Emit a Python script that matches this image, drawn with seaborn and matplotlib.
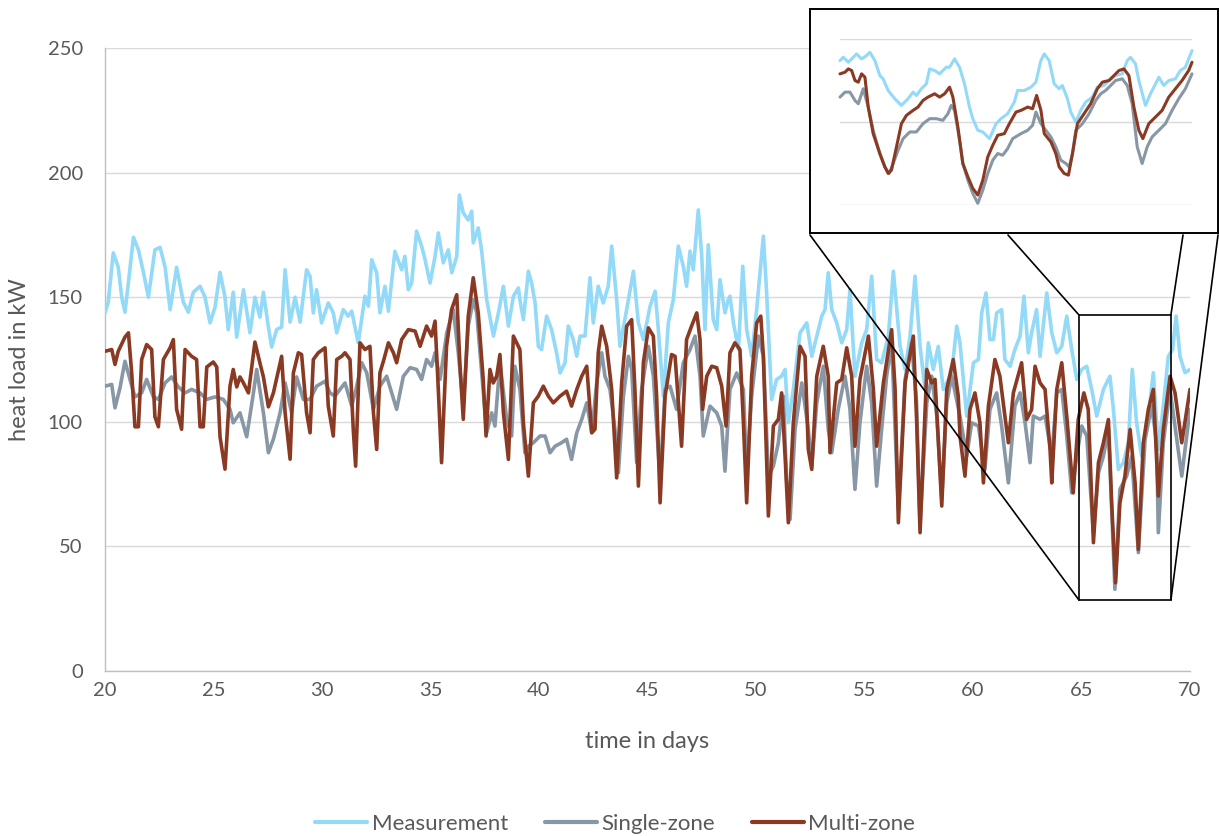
import numpy as np
import matplotlib
matplotlib.use("Agg")
import matplotlib.pyplot as plt
from matplotlib.lines import Line2D
from matplotlib.patches import Rectangle, ConnectionPatch
import seaborn as sns

# ---------------------------------------------------------------- data
meas_days = [20.00, 20.15, 20.38, 20.61, 20.77, 20.92, 21.08, 21.31, 21.54, 21.77, 22.00, 22.30, 22.54, 22.77,
             23.00, 23.30, 23.61, 23.84, 24.07, 24.38, 24.61, 24.84, 25.07, 25.30, 25.53, 25.68, 25.91, 26.07,
             26.38, 26.68, 26.91, 27.14, 27.30, 27.53, 27.68, 27.91, 28.14, 28.30, 28.53, 28.76, 28.99, 29.29,
             29.45, 29.60, 29.75, 29.98, 30.29, 30.52, 30.68, 30.98, 31.21, 31.37, 31.67, 31.98, 32.14, 32.29,
             32.52, 32.67, 32.90, 33.06, 33.36, 33.67, 33.82, 33.98, 34.13, 34.36, 34.59, 34.75, 34.98, 35.21,
             35.36, 35.59, 35.82, 35.98, 36.21, 36.33, 36.51, 36.74, 36.90, 36.97, 37.20, 37.36, 37.59, 37.90,
             38.13, 38.36, 38.59, 38.82, 39.05,
             39.12, 39.28, 39.51, 39.66, 39.82, 39.97, 40.12, 40.35, 40.58, 40.81, 40.97, 41.20, 41.35, 41.58,
             41.74, 41.89, 42.12, 42.35, 42.50, 42.73, 42.96, 43.19, 43.35, 43.58, 43.73, 44.04, 44.35, 44.58,
             44.81, 45.12, 45.35, 45.50, 45.73, 45.96, 46.19, 46.42, 46.65, 46.80, 46.96, 47.11, 47.34, 47.50,
             47.65, 47.80, 48.03, 48.19, 48.34, 48.57, 48.72,
             48.80, 48.96, 49.19, 49.39, 49.57, 49.80, 50.03, 50.34, 50.49, 50.72, 50.95, 51.18, 51.34, 51.49,
             51.72, 52.03, 52.34, 52.57, 52.80, 53.03, 53.18, 53.33, 53.49, 53.72, 53.95, 54.18, 54.33, 54.56,
             54.87, 55.10, 55.33, 55.56, 55.79, 56.10, 56.33, 56.64, 56.87, 57.10, 57.33, 57.56, 57.79, 57.94,
             58.17, 58.40, 58.63, 59.02, 59.25,
             59.40, 59.71, 60.02, 60.25, 60.40, 60.60, 60.78, 60.94, 61.09, 61.32, 61.47, 61.71, 61.93, 62.17,
             62.35, 62.55, 62.70, 62.93, 63.09, 63.40, 63.63, 63.86, 64.09, 64.32, 64.55, 64.78, 65.01, 65.24,
             65.47, 65.70, 66.01, 66.31, 66.47, 66.70, 66.93, 67.16, 67.34, 67.54, 67.77, 68.08, 68.31, 68.54,
             68.77, 69.00, 69.20, 69.36, 69.54, 69.77, 70.00]
meas_load = [143.7, 148.0, 167.8, 162.0, 150.0, 144.0, 156.0, 174.0, 169.0, 160.0, 150.0, 169.0, 170.0, 162.0,
             145.0, 162.0, 148.0, 144.0, 152.0, 154.4, 150.0, 139.7, 146.0, 160.0, 150.0, 137.0, 152.0, 134.0,
             153.0, 135.7, 150.0, 142.0, 152.0, 138.0, 130.0, 137.0, 138.0, 161.0, 140.0, 150.0, 140.0, 161.0,
             158.4, 143.7, 153.0, 139.7, 147.7, 143.7, 135.7, 145.0, 142.4, 144.4, 131.7, 150.4, 146.4, 165.0,
             159.8, 143.7, 154.4, 144.4, 168.4, 161.0, 166.4, 153.0, 155.7, 176.5, 170.5, 165.0, 155.7, 166.4,
             175.8, 163.8, 169.0, 159.8, 166.4, 191.0, 183.8, 181.0, 184.5, 171.8, 177.8, 168.4, 149.0, 134.4,
             143.7, 154.4, 138.4, 150.4, 153.7,
             149.0, 141.0, 160.4, 155.7, 147.7, 130.3, 129.0, 142.4, 137.0, 127.7, 119.6, 123.7, 138.4, 133.0,
             126.3, 134.4, 134.4, 157.8, 139.7, 154.4, 147.7, 154.4, 170.5, 149.0, 130.3, 145.0, 160.4, 139.7,
             133.0, 146.4, 152.4, 137.0, 110.3, 139.7, 149.0, 170.5, 162.4, 154.4, 168.5, 161.0, 185.0, 166.4,
             137.0, 171.0, 141.0, 137.0, 157.0, 143.7, 149.0,
             150.4, 139.7, 129.0, 162.4, 137.0, 126.3, 145.0, 174.5, 151.7, 109.0, 117.0, 118.3, 121.0, 99.6,
             113.0, 135.7, 139.7, 126.3, 134.4, 142.4, 145.0, 159.8, 145.0, 139.7, 131.7, 137.0, 153.0, 118.3,
             131.7, 137.0, 158.4, 125.0, 123.7, 134.4, 160.4, 130.3, 121.0, 134.4, 158.4, 130.3, 113.0, 131.7,
             121.0, 130.3, 113.0, 119.6, 138.4,
             131.7, 102.3, 123.7, 125.0, 143.7, 151.7, 133.0, 133.0, 143.7, 145.0, 125.0, 122.3, 129.0, 134.4,
             150.4, 127.7, 135.7, 145.0, 126.3, 151.7, 135.7, 127.7, 130.3, 142.4, 129.0, 117.0, 121.0, 122.3,
             113.0, 102.3, 113.0, 118.3, 105.0, 80.9, 83.6, 91.6, 121.0, 99.6, 86.2, 102.3, 119.7, 88.9,
             106.3, 126.3, 129.0, 142.4, 126.3, 119.7, 121.0]

single_days = [20.00, 20.31, 20.46, 20.69, 20.92, 21.15, 21.38, 21.69, 21.92, 22.23, 22.46, 22.77, 23.07, 23.38,
               23.69, 23.99, 24.38, 24.69, 25.07, 25.45, 25.76, 25.91, 26.22, 26.53, 26.84, 26.99, 27.30, 27.53,
               27.76, 28.07, 28.30, 28.60, 28.83, 29.14,
               29.45, 29.75, 30.14, 30.37, 30.60, 30.83, 31.06, 31.37, 31.60, 31.83, 32.06, 32.37, 32.67, 32.98,
               33.21, 33.44, 33.75, 34.06, 34.36, 34.59, 34.82, 35.05, 35.21, 35.44, 35.75, 36.05, 36.28, 36.51,
               36.74, 36.97, 37.13, 37.36, 37.59, 37.82, 37.97, 38.20, 38.51, 38.74, 38.89,
               39.12, 39.35, 39.51, 39.74, 40.05, 40.28, 40.51, 40.74, 41.04, 41.27, 41.50, 41.74, 41.97, 42.20,
               42.43, 42.66, 42.89, 43.04, 43.27, 43.50, 43.66, 43.89, 44.12, 44.27, 44.50, 44.73, 45.04, 45.27,
               45.58, 45.81, 46.04, 46.34, 46.65, 46.96, 47.19, 47.42, 47.57, 47.88, 48.19, 48.42, 48.57,
               48.80, 49.11, 49.42, 49.57, 49.80, 50.11, 50.34, 50.57, 50.80, 51.03, 51.26, 51.41, 51.57, 51.80,
               52.11, 52.41, 52.57, 52.80, 53.10, 53.33, 53.49, 53.79, 54.10, 54.33, 54.56, 54.79, 55.10, 55.33,
               55.56, 55.79, 56.02, 56.25, 56.56, 56.87, 57.17, 57.40, 57.56, 57.87, 58.10, 58.33, 58.56, 58.79,
               59.02,
               59.40, 59.71, 59.94, 60.25, 60.55, 60.78, 61.09, 61.32, 61.63, 61.93, 62.17, 62.40, 62.63, 62.78,
               63.09, 63.32, 63.63, 63.86, 64.09, 64.32, 64.55, 64.78, 65.01, 65.24, 65.55, 65.78, 66.01, 66.24,
               66.54, 66.77, 67.08, 67.31, 67.62, 67.93, 68.23, 68.46, 68.54, 68.77, 69.08, 69.31, 69.62, 70.00]
single_load = [114.3, 115.0, 105.6, 113.6, 124.3, 117.0, 110.0, 111.6, 117.0, 110.0, 109.0, 115.6, 118.0, 114.0,
               111.6, 113.0, 111.6, 109.0, 110.0, 109.0, 105.0, 99.6, 103.6, 94.0, 111.6, 121.0, 103.6, 87.6,
               93.0, 103.6, 115.6, 103.6, 118.0, 109.0,
               109.0, 114.3, 116.3, 111.6, 110.3, 113.0, 115.6, 106.3, 114.3, 123.7, 119.7, 105.0, 114.3, 118.3,
               111.6, 105.0, 118.3, 121.7, 121.0, 117.0, 125.0, 122.3, 127.7, 117.0, 135.7, 145.0, 127.7, 106.3,
               138.4, 149.0, 143.7, 119.7, 95.6, 103.6, 98.3, 123.7, 101.0, 94.3, 122.3,
               113.0, 87.6, 90.2, 91.6, 94.3, 94.3, 87.6, 90.2, 91.6, 93.0, 84.9, 95.6, 101.0, 107.6,
               95.6, 115.6, 127.7, 118.3, 113.0, 97.0, 79.5, 110.3, 126.3, 121.0, 83.6, 113.0, 130.3, 118.3,
               76.9, 113.0, 114.3, 105.0, 123.7, 129.0, 134.4, 118.3, 94.3, 106.3, 103.6, 98.3, 80.2,
               113.0, 119.6, 113.0, 79.5, 110.3, 134.4, 126.3, 78.2, 82.2, 91.6, 110.3, 76.9, 60.8, 97.0,
               115.6, 97.0, 82.2, 107.6, 122.3, 97.0, 87.6, 105.0, 118.3, 105.0, 72.9, 99.6, 122.3, 107.6,
               74.2, 97.0, 118.3, 131.7, 64.8, 117.0, 131.7, 107.6, 58.2, 107.6, 118.3, 102.3, 68.9, 107.6,
               118.3,
               102.3, 86.2, 99.6, 98.3, 80.9, 105.0, 111.6, 98.3, 75.5, 106.3, 111.6, 99.6, 83.6, 102.3,
               101.0, 102.3, 86.2, 111.6, 113.0, 94.3, 71.5, 86.2, 98.3, 94.3, 55.5, 79.5, 86.2, 97.0,
               32.8, 72.9, 78.2, 86.2, 47.5, 92.9, 106.3, 92.0, 55.5, 91.6, 113.0, 98.3, 78.2, 105.0]

multi_days = [20.00, 20.31, 20.46, 20.61, 20.92, 21.08, 21.23, 21.38, 21.54, 21.69, 21.92, 22.15, 22.30, 22.46,
              22.69, 23.00, 23.15, 23.30, 23.53, 23.69, 23.99, 24.22, 24.38, 24.53, 24.69, 24.99, 25.15, 25.30,
              25.53, 25.76, 25.91, 26.07, 26.22, 26.38, 26.61, 26.91, 27.14, 27.30, 27.53, 27.76, 28.14, 28.30,
              28.53, 28.68, 28.91, 29.06, 29.29,
              29.45, 29.60, 29.83, 30.14, 30.29, 30.52, 30.68, 30.91, 31.06, 31.29, 31.44, 31.55, 31.75, 31.98,
              32.21, 32.37, 32.52, 32.67, 32.83, 33.06, 33.29, 33.44, 33.67, 33.98, 34.29, 34.52, 34.82, 35.05,
              35.21, 35.36, 35.51, 35.74, 35.97, 36.21, 36.36, 36.51, 36.74, 36.97, 37.20, 37.43, 37.56, 37.74,
              37.89, 38.05, 38.20, 38.36, 38.59, 38.82, 39.05,
              39.12, 39.28, 39.51, 39.74, 39.97, 40.20, 40.43, 40.66, 40.97, 41.27, 41.50, 41.74, 41.97, 42.20,
              42.43, 42.58, 42.73, 42.89, 43.12, 43.35, 43.58, 43.81, 44.04, 44.27, 44.42, 44.58, 44.81, 45.04,
              45.27, 45.42, 45.58, 45.81, 46.11, 46.27, 46.57, 46.80, 47.03, 47.27, 47.42, 47.54, 47.73, 47.96,
              48.19, 48.42, 48.62,
              48.80, 49.03, 49.26, 49.42, 49.57, 49.80, 50.03, 50.22, 50.34, 50.57, 50.80, 51.03, 51.18, 51.34,
              51.49, 51.72, 52.03, 52.26, 52.41, 52.57, 52.80, 53.10, 53.33, 53.41, 53.72, 53.95, 54.18, 54.41,
              54.56, 54.79, 55.18, 55.41, 55.56, 55.87, 56.25, 56.41, 56.56, 56.87, 57.25, 57.40, 57.56, 57.87,
              58.10, 58.25, 58.40, 58.56, 58.79, 59.09, 59.32,
              59.40, 59.63, 59.86, 60.09, 60.32, 60.48, 60.71, 61.01, 61.24, 61.47, 61.63, 61.86, 62.24, 62.47,
              62.70, 62.86, 63.09, 63.32, 63.55, 63.63, 63.86, 64.09, 64.32, 64.62, 64.85, 65.11, 65.31, 65.55,
              65.78, 66.01, 66.24, 66.39, 66.57, 66.77, 67.00, 67.24, 67.47, 67.62, 67.85, 68.08, 68.31, 68.54,
              68.77, 69.08, 69.31, 69.62, 70.00]
multi_load = [128.3, 129.0, 123.0, 128.3, 134.0, 135.7, 119.6, 98.0, 98.0, 125.0, 131.0, 129.0, 102.0, 98.0,
              125.0, 129.7, 133.0, 105.0, 97.0, 129.0, 126.3, 125.0, 98.0, 98.0, 122.0, 124.0, 122.0, 94.0,
              81.0, 114.3, 121.0, 114.0, 118.0, 115.6, 111.6, 132.0, 123.6, 118.0, 106.0, 111.6, 126.3, 103.6,
              85.0, 119.6, 127.7, 127.0, 103.6,
              95.6, 125.0, 127.7, 129.7, 106.3, 94.3, 125.0, 126.3, 127.7, 125.0, 97.0, 82.2, 131.7, 129.0,
              130.3, 103.6, 88.9, 119.7, 124.3, 131.7, 127.7, 123.7, 133.0, 137.0, 136.4, 130.3, 138.4, 134.4,
              140.4, 113.0, 83.6, 130.3, 145.0, 151.0, 122.3, 101.0, 142.4, 157.8, 143.7, 117.0, 94.3, 121.0,
              115.6, 118.3, 127.0, 103.6, 84.9, 134.4, 130.3,
              129.0, 99.6, 78.2, 107.6, 110.3, 114.3, 110.3, 107.6, 110.3, 112.3, 106.3, 113.0, 118.3, 122.3,
              95.6, 97.0, 127.7, 138.4, 130.3, 113.0, 77.5, 115.6, 138.4, 141.0, 113.0, 74.2, 123.7, 137.7,
              134.4, 110.3, 67.5, 110.3, 127.0, 126.3, 90.2, 133.0, 138.4, 143.7, 133.0, 105.0, 118.3, 122.3,
              121.7, 114.3, 98.3,
              127.7, 131.7, 129.0, 99.6, 67.5, 118.3, 139.7, 142.4, 126.3, 62.2, 98.3, 101.0, 111.6, 86.2,
              59.5, 99.6, 130.3, 126.3, 88.9, 80.9, 118.3, 130.3, 118.3, 87.6, 115.6, 117.0, 129.7, 118.3,
              90.2, 117.0, 134.4, 113.0, 90.2, 115.6, 137.0, 113.0, 59.5, 115.6, 134.4, 101.0, 55.5, 121.0,
              115.6, 117.0, 92.9, 66.2, 113.0, 125.0, 110.3,
              94.3, 78.2, 105.0, 111.6, 99.6, 75.5, 106.3, 125.0, 118.3, 102.3, 91.6, 111.6, 123.7, 100.9,
              104.9, 122.3, 115.6, 113.0, 88.9, 75.5, 113.0, 123.7, 102.3, 71.5, 100.9, 111.6, 105.0, 51.5,
              83.6, 91.6, 100.9, 67.5, 35.4, 67.5, 78.2, 96.9, 75.5, 48.8, 91.6, 105.0, 113.0, 70.2,
              96.9, 118.3, 111.6, 91.6, 113.0]

# finer-resolution record for the magnified window
detail_meas_days = [65.000, 65.037, 65.093, 65.185, 65.240, 65.296, 65.333, 65.389, 65.444, 65.481, 65.537,
                    65.611, 65.685, 65.759, 65.815, 65.852, 65.907, 65.963, 66.000, 66.056, 66.111, 66.185,
                    66.222, 66.278, 66.333, 66.389, 66.444, 66.481, 66.537, 66.593, 66.667, 66.741, 66.796,
                    66.870, 66.944, 66.981, 67.056, 67.130, 67.185, 67.240, 67.278, 67.333, 67.389, 67.444,
                    67.480, 67.537, 67.574, 67.630, 67.685, 67.740, 67.815, 67.870, 67.944, 68.000, 68.074,
                    68.148, 68.204, 68.240, 68.296, 68.333, 68.407, 68.463, 68.519, 68.556, 68.611, 68.667,
                    68.741, 68.796, 68.852, 68.926]
detail_meas_load = [137, 139, 136, 141, 138, 140, 142, 137, 128, 126, 119, 114, 110, 114, 118, 116, 120, 123,
                    132, 131, 129, 133, 133, 138, 133, 123, 109, 102, 95, 94, 90, 99, 102, 105, 112, 119,
                    119, 121, 124, 137, 141, 137, 123, 120, 122, 114, 106, 100, 107, 112, 115, 121, 122, 125,
                    128, 129, 137, 139, 135, 125, 110, 117, 123, 127, 122, 125, 126, 131, 133, 143]
detail_single_days = [65.000, 65.056, 65.111, 65.167, 65.204, 65.259, 65.315, 65.370, 65.444, 65.500, 65.548,
                      65.593, 65.648, 65.704, 65.778, 65.852, 65.926, 66.000, 66.074, 66.148, 66.204, 66.241,
                      66.278, 66.333, 66.370, 66.426, 66.481, 66.537, 66.593, 66.648, 66.704, 66.759, 66.815,
                      66.870, 66.926, 67.019, 67.093, 67.148, 67.185, 67.241, 67.296, 67.352, 67.407, 67.463,
                      67.519, 67.556, 67.593, 67.630, 67.704, 67.778, 67.852, 67.907, 67.963, 68.019, 68.074,
                      68.148, 68.204, 68.259, 68.315, 68.370, 68.426, 68.481, 68.556, 68.630, 68.704, 68.778,
                      68.852, 68.926]
detail_single_load = [115, 118, 118, 113, 111, 120, 109, 95, 81, 73, 69, 75, 83, 90, 94, 94, 99, 102, 102,
                      101, 105, 110, 107, 89, 75, 65, 57, 51, 59, 69, 77, 81, 80, 84, 90, 93, 95, 98, 106,
                      99, 95, 91, 85, 77, 75, 73, 81, 95, 99, 105, 113, 117, 119, 122, 125, 126, 122, 111,
                      85, 75, 85, 91, 95, 99, 107, 114, 120, 129]
detail_multi_days = [65.000, 65.056, 65.093, 65.130, 65.167, 65.204, 65.241, 65.278, 65.315, 65.370, 65.444,
                     65.500, 65.537, 65.574, 65.630, 65.685, 65.741, 65.815, 65.870, 65.926, 65.981, 66.056,
                     66.111, 66.167, 66.222, 66.259, 66.315, 66.370, 66.426, 66.481, 66.537, 66.593, 66.648,
                     66.704, 66.759, 66.833, 66.889, 66.963, 67.019, 67.093, 67.148, 67.193, 67.241, 67.278,
                     67.352, 67.407, 67.444, 67.500, 67.548, 67.593, 67.648, 67.722, 67.796, 67.870, 67.926,
                     68.000, 68.056, 68.111, 68.167, 68.222, 68.278, 68.333, 68.378, 68.444, 68.519, 68.593,
                     68.667, 68.741, 68.815, 68.889, 68.926]
detail_multi_load = [129, 130, 132, 131, 125, 124, 129, 127, 109, 93, 81, 73, 69, 71, 85, 99, 104, 107, 109,
                     113, 115, 117, 115, 117, 121, 115, 97, 75, 67, 60, 56, 65, 79, 86, 92, 93, 99, 106,
                     107, 109, 108, 116, 107, 93, 88, 81, 73, 69, 68, 81, 99, 105, 111, 120, 124, 125, 128,
                     131, 132, 128, 109, 95, 90, 99, 103, 107, 115, 120, 125, 131, 136]

series_names = ["Measurement", "Single-zone", "Multi-zone"]
series_colors = ["#93d9f8", "#8797a5", "#8a3a23"]
y_ticks = [0, 50, 100, 150, 200, 250]
x_ticks = [20, 25, 30, 35, 40, 45, 50, 55, 60, 65, 70]
x_label = "time in days"
y_label = "heat load in kW"

# --------------------------------------------------------------- style
sns.set_theme(style="white")
plt.rcParams["font.family"] = ["Lato", "DejaVu Sans"]
TEXT = "#595959"
GRID = "#d9d9d9"

W, H = 1219, 836
fig = plt.figure(figsize=(W / 100, H / 100), dpi=100)


def box(x0, y0, x1, y1):
    """Figure-fraction rectangle from pixel edges measured from the top-left."""
    return [x0 / W, 1 - y1 / H, (x1 - x0) / W, (y1 - y0) / H]


def fpt(x, y):
    return (x / W, 1 - y / H)


# ----------------------------------------------------------- main axes
ax = fig.add_axes(box(105, 48, 1190, 671))
series = [(meas_days, meas_load), (single_days, single_load), (multi_days, multi_load)]
for (d, v), name, col in zip(series, series_names, series_colors):
    sns.lineplot(x=np.array(d), y=np.array(v), ax=ax, color=col, linewidth=2.6,
                 estimator=None, sort=False, legend=False, zorder=3)

ax.set_xlim(20, 70)
ax.set_ylim(0, 250)
ax.set_xticks(x_ticks)
ax.set_yticks(y_ticks)
ax.grid(axis="y", color=GRID, linewidth=1.0)
ax.grid(axis="x", visible=False)
ax.set_axisbelow(True)
for s in ["top", "right"]:
    ax.spines[s].set_visible(False)
for s in ["left", "bottom"]:
    ax.spines[s].set_color("#bfbfbf")
    ax.spines[s].set_linewidth(1.0)
ax.tick_params(axis="both", length=0, labelsize=14.5, labelcolor=TEXT)
ax.tick_params(axis="y", pad=16)
ax.tick_params(axis="x", pad=8)
ax.set_xlabel("")
ax.set_ylabel("")
fig.text(*fpt(20, 360), y_label, rotation=90, ha="center", va="center", fontsize=17, color=TEXT)
fig.text(*fpt(647, 741), x_label, ha="center", va="center", fontsize=17, color=TEXT)

# magnified window marker
zoom_days = (64.88, 69.12)
zoom_loads = (28.5, 142.9)
ax.add_patch(Rectangle((zoom_days[0], zoom_loads[0]), zoom_days[1] - zoom_days[0],
                       zoom_loads[1] - zoom_loads[0], fill=False, edgecolor="black",
                       linewidth=1.2, zorder=5))

# ----------------------------------------------------------- inset
frame = fig.add_axes(box(810, 9, 1218, 233))
frame.set_facecolor("white")
frame.set_xticks([])
frame.set_yticks([])
for s in frame.spines.values():
    s.set_color("black")
    s.set_linewidth(1.4)

inset = fig.add_axes(box(840, 39, 1192, 205))
inset.patch.set_alpha(0)
detail = [(detail_meas_days, detail_meas_load), (detail_single_days, detail_single_load),
          (detail_multi_days, detail_multi_load)]
for (d, v), col in zip(detail, series_colors):
    sns.lineplot(x=np.array(d), y=np.array(v), ax=inset, color=col, linewidth=2.2,
                 estimator=None, sort=False, legend=False, zorder=3, clip_on=False)
inset.set_xlim(65.0, 68.926)
inset.set_ylim(50, 150)
inset.set_yticks([50, 100, 150])
inset.set_xticks([])
inset.grid(axis="y", color=GRID, linewidth=1.0)
inset.set_axisbelow(True)
inset.tick_params(length=0, labelleft=False, labelbottom=False)
inset.set_xlabel("")
inset.set_ylabel("")
for s in inset.spines.values():
    s.set_visible(False)

# connector lines from the inset to the marker
links = [((810, 235), (zoom_days[0], zoom_loads[0])),
         ((1008, 235), (zoom_days[0], zoom_loads[1])),
         ((1183, 235), (zoom_days[1], zoom_loads[1])),
         ((1218, 235), (zoom_days[1], zoom_loads[0]))]
for (px, py), (dx, dy) in links:
    cp = ConnectionPatch(xyA=fpt(px, py), coordsA="figure fraction", xyB=(dx, dy),
                         coordsB="data", axesB=ax, color="black", linewidth=1.2)
    fig.add_artist(cp)

# ----------------------------------------------------------- legend
handles = [Line2D([0], [0], color=c, linewidth=3.0) for c in series_colors]
fig.legend(handles, series_names, loc="center", bbox_to_anchor=fpt(615, 824), ncol=3,
           frameon=False, fontsize=16, labelcolor=TEXT, handlelength=2.35,
           handletextpad=0.2, columnspacing=1.65)

fig.savefig("out.png", dpi=100)
